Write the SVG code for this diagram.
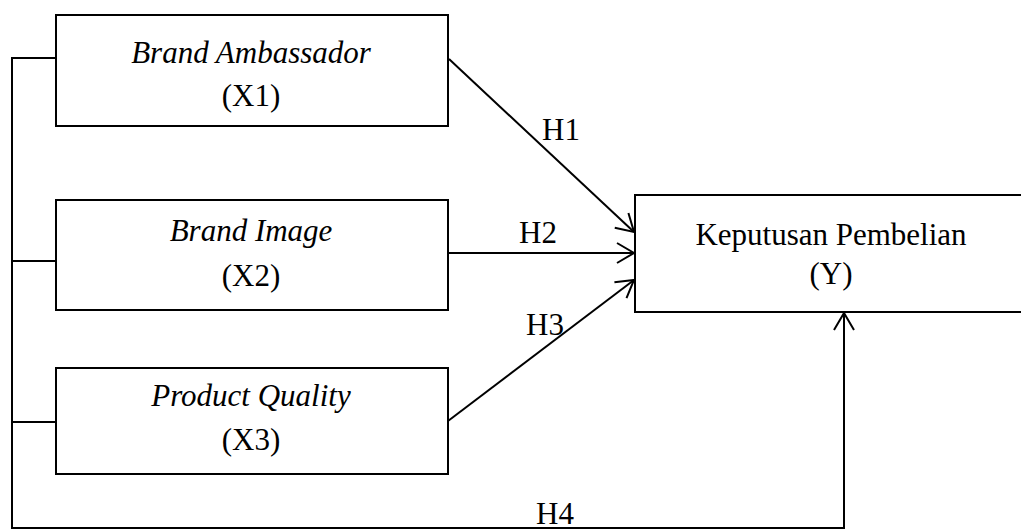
<svg xmlns="http://www.w3.org/2000/svg" width="1021" height="531" viewBox="0 0 1021 531">
<style>
.box{fill:#fff;stroke:#000;stroke-width:2}
.ln{fill:none;stroke:#000;stroke-width:2}
.t{font-family:"Liberation Serif","Times New Roman",serif;font-size:31px;fill:#000;text-anchor:middle}
.i{font-style:italic}
</style>
<defs>
<marker id="arr" markerUnits="userSpaceOnUse" markerWidth="24" markerHeight="24" viewBox="-20 -12 24 24" refX="0" refY="0" orient="auto">
<path d="M-17,-10 L0,0 L-17,10" fill="none" stroke="#000" stroke-width="2"/>
</marker>
</defs>
<rect width="1021" height="531" fill="#fff"/>
<g id="connectors">
<polyline class="ln" points="56,58 12,58 12,528 844,528 844,313" marker-end="url(#arr)"/>
<line class="ln" x1="12" y1="261" x2="56" y2="261"/>
<line class="ln" x1="12" y1="422" x2="56" y2="422"/>
<line class="ln" x1="449" y1="59" x2="634" y2="232" marker-end="url(#arr)"/>
<line class="ln" x1="448" y1="253" x2="634" y2="253" marker-end="url(#arr)"/>
<line class="ln" x1="448" y1="421" x2="634" y2="280" marker-end="url(#arr)"/>
<text class="t" x="561" y="140">H1</text>
<text class="t" x="538" y="243">H2</text>
<text class="t" x="545" y="335">H3</text>
<text class="t" x="555" y="524">H4</text>
</g>
<g id="x1">
<rect class="box" x="56" y="15" width="392" height="111"/>
<text class="t i" x="251" y="63">Brand Ambassador</text>
<text class="t" x="251" y="106">(X1)</text>
</g>
<g id="x2">
<rect class="box" x="56" y="200" width="392" height="110"/>
<text class="t i" x="251" y="241">Brand Image</text>
<text class="t" x="251" y="286">(X2)</text>
</g>
<g id="x3">
<rect class="box" x="56" y="368" width="392" height="106"/>
<text class="t i" x="251" y="406">Product Quality</text>
<text class="t" x="251" y="450">(X3)</text>
</g>
<g id="y">
<rect class="box" x="635" y="195" width="400" height="117"/>
<text class="t" x="831" y="245">Keputusan Pembelian</text>
<text class="t" x="831" y="284">(Y)</text>
</g>
</svg>
